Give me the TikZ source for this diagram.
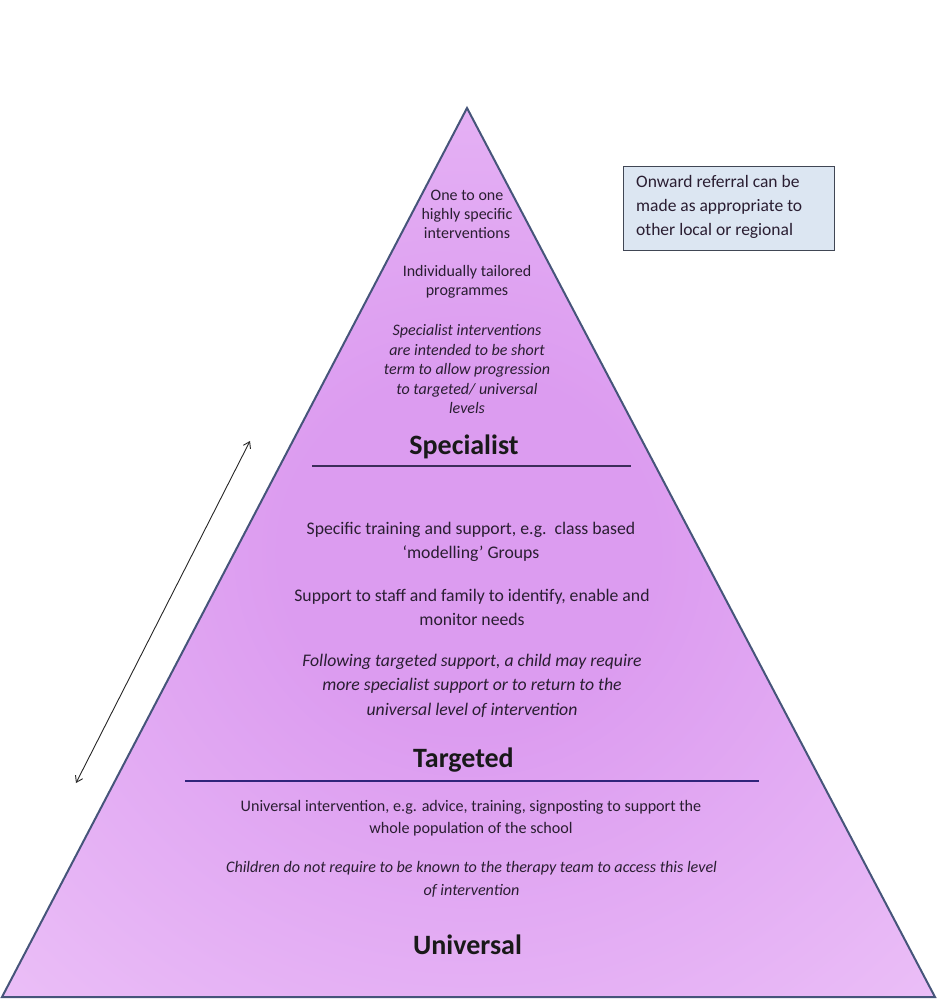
\documentclass[tikz,border=0pt]{standalone}
\usepackage{fontspec}
\setmainfont{Carlito}
\usetikzlibrary{arrows.meta}
\definecolor{pyrin}{RGB}{220,156,240}
\definecolor{pyrout}{RGB}{243,210,251}
\definecolor{edgeblue}{RGB}{70,85,122}
\definecolor{rulecol}{RGB}{60,45,90}
\definecolor{txt}{RGB}{42,30,50}
\definecolor{boxfill}{RGB}{220,230,242}
\definecolor{boxedge}{RGB}{64,70,84}
\pgfdeclareradialshading{pyrshade}{\pgfpoint{0bp}{0bp}}{color(0bp)=(pyrin); color(10bp)=(pyrin); color(50bp)=(pyrout)}
\tikzset{
  small/.style={text=txt, align=center, inner sep=0pt, font=\fontsize{16}{19.3}\selectfont},
  mid/.style={text=txt, align=center, inner sep=0pt, font=\fontsize{17.7}{24.5}\selectfont},
  low/.style={text=txt, align=center, inner sep=0pt, font=\fontsize{16.1}{22.5}\selectfont},
  level/.style={text=black!90, inner sep=0pt, font=\fontsize{28}{32}\selectfont\bfseries},
  divider/.style={draw=rulecol, line width=1.6pt},
}
\begin{document}
\begin{tikzpicture}[x=1pt,y=-1pt]
\useasboundingbox (0,0) rectangle (940,1002);
\coordinate (apex) at (467,108);
\coordinate (bl) at (2,997);
\coordinate (br) at (935,997);
\fill[pyrout] (apex) -- (bl) -- (br) -- cycle;
\shade[shading=pyrshade] (apex) -- (bl) -- (br) -- cycle;
\draw[edgeblue, line width=2pt, line join=miter] (apex) -- (bl) -- (br) -- cycle;

\node[small] (s1) at (467,214.5) {One to one\\highly specific\\interventions};
\node[small] (s2) at (467,282) {Individually tailored\\programmes};
\node[small, font=\fontsize{16}{19.5}\selectfont\itshape] (s3) at (467,369) {Specialist interventions\\are intended to be short\\term to allow progression\\to targeted/ universal\\levels};
\node[level] (spec) at (464,447) {Specialist};
\coordinate (d1l) at (312,466);
\coordinate (d1r) at (631,466);
\draw[divider] (d1l) -- (d1r);

\node[mid] (m1) at (471,542) {Specific training and support, e.g.\ \ class based\\‘modelling’ Groups};
\node[mid] (m2) at (472,607.5) {Support to staff and family to identify, enable and\\monitor needs};
\node[mid, font=\fontsize{17.7}{24.5}\selectfont\itshape] (m3) at (472,685.5) {Following targeted support, a child may require\\more specialist support or to return to the\\universal level of intervention};
\node[level] (targ) at (463.5,760) {Targeted};
\coordinate (d2l) at (185,781);
\coordinate (d2r) at (759,781);
\draw[divider, draw=rulecol!80!blue] (d2l) -- (d2r);

\node[low] (u1) at (471,818) {Universal intervention, e.g. advice, training, signposting to support the\\whole population of the school};
\node[low, font=\fontsize{16.1}{22.5}\selectfont\itshape] (u2) at (471.5,879.5) {Children do not require to be known to the therapy team to access this level\\of intervention};
\node[level] (univ) at (467.5,945) {Universal};

\node[draw=boxedge, fill=boxfill, line width=1.3pt, minimum width=211pt, minimum height=84pt, anchor=north west, inner sep=0pt] (box) at (623,166) {};
\node[text=txt, align=left, anchor=north west, inner sep=0pt, font=\fontsize{17.5}{24}\selectfont] (boxtext) at (636,175) {Onward referral can be\\made as appropriate to\\other local or regional};

\coordinate (atop) at (250,441);
\coordinate (abot) at (76,783);
\draw[black!85, line width=0.9pt, {Straight Barb[length=6pt,width=8pt]}-{Straight Barb[length=6pt,width=8pt]}] (abot) -- (atop);
\end{tikzpicture}
\end{document}
